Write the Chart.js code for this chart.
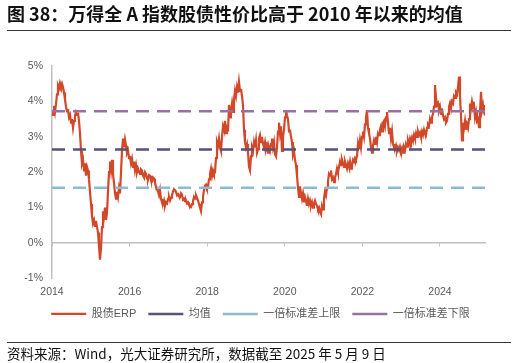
<!DOCTYPE html>
<html lang="zh-CN">
<head>
<meta charset="UTF-8">
<title>万得全A指数股债性价比</title>
<script src="https://cdn.jsdelivr.net/npm/chart.js"></script>
<style>
  html, body { margin: 0; padding: 0; background: #fff; }
  #wrap { position: relative; width: 516px; height: 363px; overflow: hidden; }
  #chart { position: absolute; left: 0; top: 0; }
  .title {
    position: absolute; left: 7px; top: 0; width: 504px; height: 30px;
    line-height: 30px; border-bottom: 1px solid #333; white-space: nowrap;
    font: bold 18px "Noto Sans CJK SC", sans-serif; color: #111;
  }
  .source {
    position: absolute; left: 7px; top: 342px; width: 504px;
    border-top: 1px solid #333; line-height: 19px; white-space: nowrap;
    font: 13.5px "Noto Sans CJK SC", sans-serif; color: #111;
  }
</style>
</head>
<body>
<div id="wrap">
  <canvas id="chart" width="516" height="363"></canvas>
  <div class="title">图 38：万得全 A 指数股债性价比高于 2010 年以来的均值</div>
  <div class="source">资料来源：Wind，光大证券研究所，数据截至 2025 年 5 月 9 日</div>
</div>

<script>
  // series on an even time grid from X_START to X_END
  const X_START = 2014;
  const X_END = 2025.16;

  // 股债ERP, %
  const erp = [
    3.75,3.62,3.88,3.70,3.92,4.20,4.45,4.38,4.52,4.42,
    4.50,4.40,4.25,4.05,3.85,3.72,3.78,3.55,3.62,3.40,
    3.50,3.25,3.45,3.60,3.70,3.62,3.68,3.45,3.10,2.60,
    2.25,2.35,2.05,2.25,1.90,2.15,2.05,1.80,1.45,
    1.10,0.75,0.55,0.65,0.48,0.62,0.45,0.30,-0.10,-0.47,
    -0.15,0.45,0.90,0.75,1.00,0.65,0.85,1.45,2.00,2.30,
    2.05,2.35,1.95,1.70,1.40,1.25,1.45,1.30,1.55,1.40,
    2.00,2.60,2.95,2.70,2.92,2.75,2.55,2.62,2.40,2.45,
    2.25,2.38,2.15,2.30,2.05,2.20,2.00,2.10,2.02,1.95,
    2.08,2.05,1.90,1.85,2.00,1.95,1.82,1.80,1.92,1.90,
    1.78,1.75,1.85,1.82,1.70,1.60,1.52,1.45,1.35,1.50,
    1.25,1.15,1.10,1.20,1.05,1.15,1.12,1.25,1.30,1.20,
    1.28,1.35,1.45,1.52,1.48,1.45,1.35,1.38,1.32,1.30,
    1.40,1.35,1.22,1.25,1.18,1.20,1.12,1.15,1.08,1.05,
    1.02,1.10,1.18,1.30,1.25,1.35,1.28,1.20,1.10,1.00,
    0.90,1.15,1.30,1.50,1.62,1.65,1.55,1.60,1.80,1.95,
    2.10,1.90,2.05,1.95,2.00,2.40,2.85,2.75,2.95,2.70,
    2.60,3.00,3.30,3.20,3.45,3.10,3.35,3.15,3.90,3.55,
    3.75,3.95,3.70,4.05,4.30,4.15,4.40,4.25,4.55,4.30,
    4.35,4.15,3.90,3.20,2.85,2.70,2.80,2.55,2.15,2.05,
    2.45,2.70,2.60,2.85,2.70,2.90,2.55,2.65,2.95,3.05,
    2.85,3.00,2.80,2.70,2.85,2.65,2.75,2.55,2.70,2.60,
    2.80,2.95,2.70,2.85,2.50,2.45,2.70,3.15,3.40,3.10,
    3.30,2.60,3.00,3.20,3.55,3.75,3.60,3.50,3.15,3.20,
    3.00,2.85,2.50,2.60,2.35,2.20,1.90,1.55,1.30,1.60,
    1.40,1.25,1.40,1.15,1.30,1.20,1.05,1.25,1.10,1.20,
    1.05,1.15,1.00,1.12,1.20,1.10,1.05,0.95,1.00,0.88,
    0.82,1.05,0.95,1.25,1.45,1.35,1.55,1.75,1.95,1.90,
    2.05,1.80,1.85,1.72,1.85,1.95,2.10,1.98,2.15,2.30,
    2.20,2.35,2.25,2.15,2.30,2.20,2.10,2.25,2.15,2.30,
    2.10,2.20,2.35,2.30,2.40,2.35,2.45,2.80,2.65,2.90,
    2.70,3.00,3.15,3.00,3.35,3.55,3.75,3.25,3.10,2.95,
    2.70,2.55,2.75,2.90,2.80,3.00,2.85,3.10,3.05,3.20,
    3.30,3.15,3.40,3.45,3.30,3.55,3.70,3.40,3.10,3.25,
    2.95,3.15,2.80,2.70,2.65,2.75,2.60,2.70,2.62,2.72,
    2.60,2.68,2.55,2.70,2.62,2.80,2.72,2.90,2.80,2.95,
    2.85,2.98,2.88,3.05,2.95,3.10,3.00,3.15,3.05,3.12,
    3.00,3.15,3.05,3.20,3.10,3.05,3.25,3.35,3.30,3.50,
    3.40,3.55,3.65,3.85,4.46,4.10,3.90,3.95,3.75,3.85,
    3.65,3.80,3.60,3.50,3.55,3.40,3.45,3.65,3.85,3.95,
    3.80,4.00,3.95,4.15,4.10,4.25,4.20,4.40,4.70,4.15,
    3.60,2.90,3.40,3.25,3.45,3.20,3.35,3.25,3.50,3.94,
    3.80,4.00,3.85,3.90,3.55,3.70,3.45,3.50,3.27,3.70,
    4.27,3.75,3.90,3.70,3.60
  ];

  const MEAN = 2.64;        // 均值
  const BAND_UP = 1.56;     // 一倍标准差上限
  const BAND_DOWN = 3.72;   // 一倍标准差下限

  const seriesNames = ['股债ERP', '均值', '一倍标准差上限', '一倍标准差下限'];
  const yTicks = [-1, 0, 1, 2, 3, 4, 5];

  const RED = '#D2492A';
  const NAVY = '#55527B';
  const LIGHTBLUE = '#8DBBCF';
  const PURPLE = '#9A70A2';
  const AXIS = '#BFBFBF';
  const TXT = '#595959';

  const step = (X_END - X_START) / (erp.length - 1);
  const erpPoints = erp.map((v, i) => ({ x: X_START + i * step, y: v }));
  const flat = v => [{ x: X_START, y: v }, { x: X_END, y: v }];

  function refLine(label, value, color) {
    return {
      label: label,
      data: flat(value),
      borderColor: color,
      backgroundColor: color,
      borderWidth: 2.5,
      borderDash: [13, 8],
      pointRadius: 0,
      order: 0
    };
  }

  // legend sits a little right of the page centre in the original
  const legendNudge = {
    id: 'legendNudge',
    afterLayout(chart) {
      chart.legend.left += 7;
      chart.legend.right += 7;
    }
  };

  const tickFont = { family: '"Liberation Sans", Arial, sans-serif', size: 10.5 };

  new Chart(document.getElementById('chart'), {
    type: 'line',
    data: {
      datasets: [
        {
          label: seriesNames[0],
          data: erpPoints,
          borderColor: RED,
          backgroundColor: RED,
          borderWidth: 2.2,
          pointRadius: 0,
          tension: 0,
          order: 1
        },
        refLine(seriesNames[1], MEAN, NAVY),
        refLine(seriesNames[2], BAND_UP, LIGHTBLUE),
        refLine(seriesNames[3], BAND_DOWN, PURPLE)
      ]
    },
    options: {
      responsive: false,
      animation: false,
      layout: { padding: { left: 22, right: 31, top: 66, bottom: 33.6 } },
      plugins: {
        tooltip: { enabled: false },
        legend: {
          position: 'bottom',
          labels: {
            usePointStyle: true,
            pointStyle: 'line',
            pointStyleWidth: 35,
            padding: 12,
            color: TXT,
            font: { family: '"Liberation Sans", "Noto Sans CJK SC", sans-serif', size: 11 },
            sort: (a, b) => a.datasetIndex - b.datasetIndex
          }
        }
      },
      scales: {
        x: {
          type: 'linear',
          min: X_START,
          max: X_END,
          border: { display: false },
          grid: { display: false, drawTicks: false },
          afterFit: s => { s.height = 18; },
          ticks: {
            stepSize: 2,
            includeBounds: false,
            autoSkip: false,
            maxRotation: 0,
            padding: 7,
            color: TXT,
            font: tickFont,
            callback: v => String(v)
          }
        },
        xZero: {
          type: 'linear',
          min: X_START,
          max: X_END,
          position: { y: 0 },
          border: { color: AXIS, width: 1.5 },
          grid: { drawOnChartArea: false, drawTicks: true, tickLength: 3, color: AXIS },
          ticks: { display: false, stepSize: 2, includeBounds: false },
          afterFit: s => { s.height = 0; }
        },
        y: {
          min: -1,
          max: 5,
          border: { color: AXIS, width: 1.5 },
          grid: { display: false, drawTicks: false },
          afterBuildTicks: s => { s.ticks = yTicks.map(v => ({ value: v })); },
          afterFit: s => { s.width = 30; },
          ticks: {
            padding: 9,
            color: TXT,
            font: tickFont,
            callback: v => v + '%'
          }
        }
      }
    },
    plugins: [legendNudge]
  });
</script>
</body>
</html>
